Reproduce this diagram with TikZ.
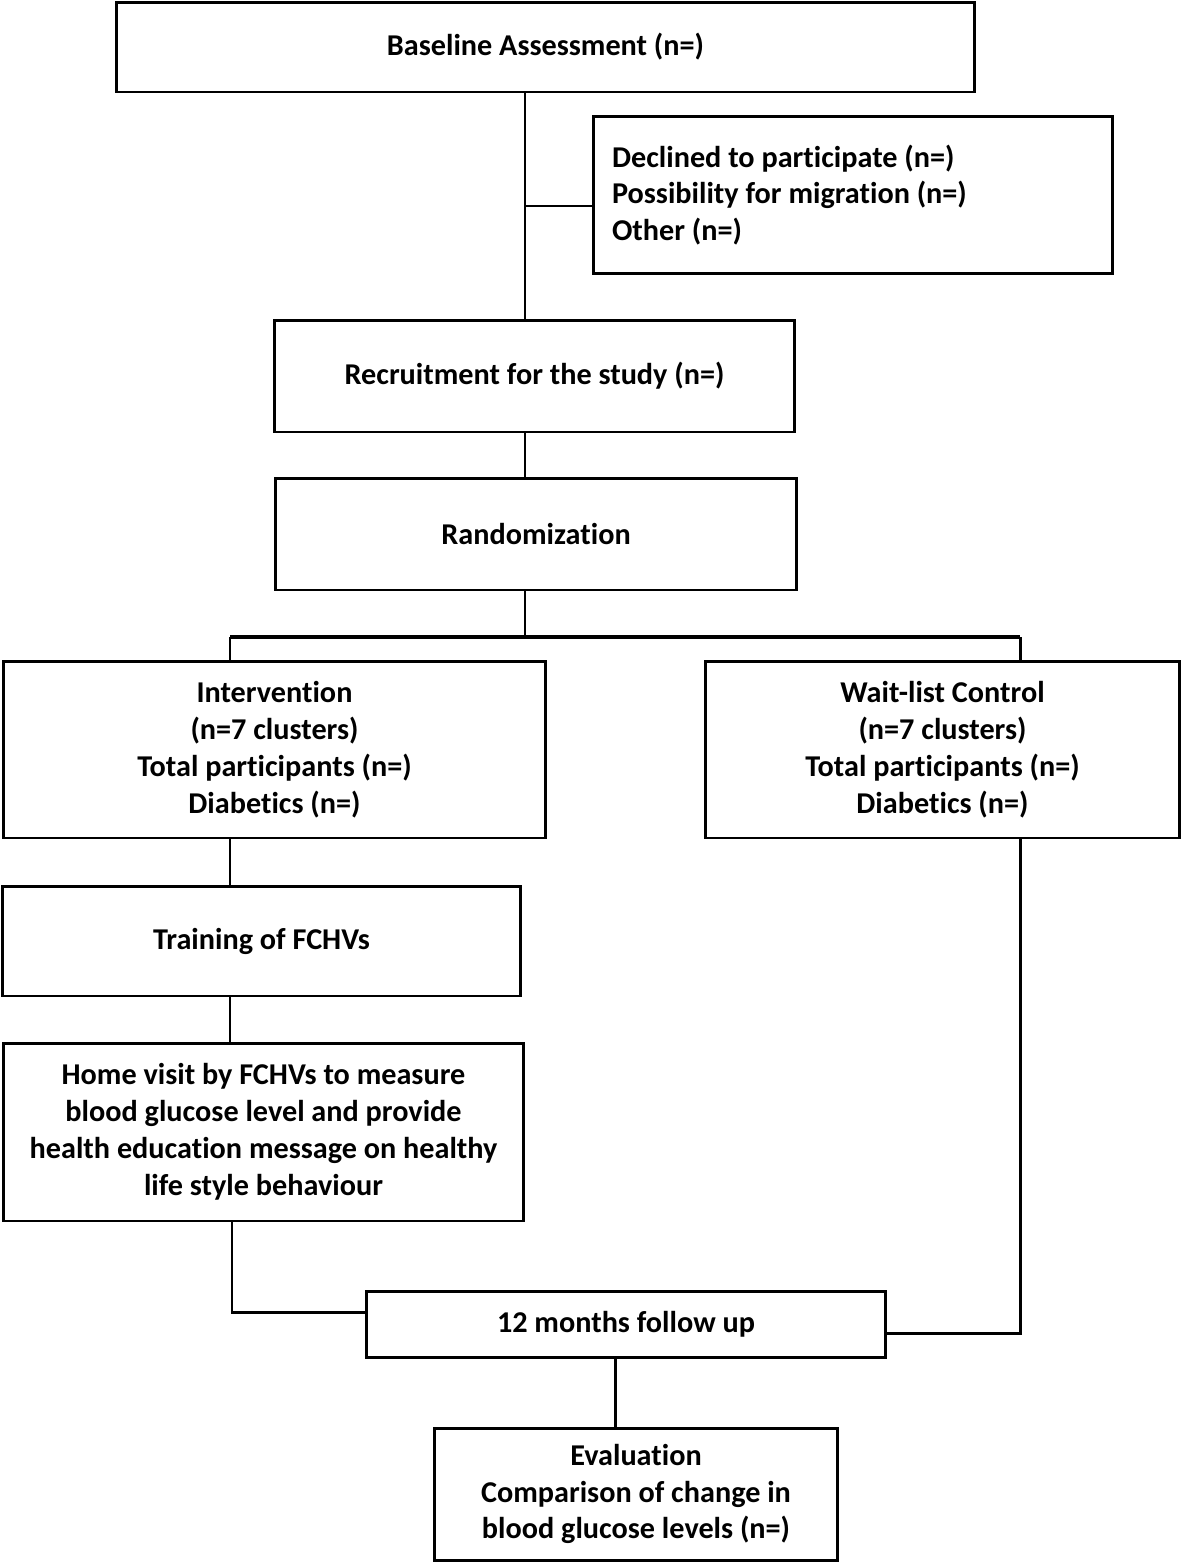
\documentclass[tikz,border=0pt]{standalone}
\usepackage{fontspec}
\setmainfont{Carlito}[Ligatures=NoCommon]
\usetikzlibrary{positioning}

\begin{document}
\begin{tikzpicture}[x=0.02cm,y=-0.02cm,line width=1.7pt,
    box/.style={draw,rectangle,inner sep=0pt,align=center,font=\fontsize{17.2}{21}\selectfont\bfseries}]
    \useasboundingbox (0,0) rectangle (1181,1562);

    \node[box,minimum width=17.18cm,minimum height=1.80cm] (base) at (545.5,47) {Baseline Assessment (n=)};
    \node[box,minimum width=10.40cm,minimum height=3.16cm,text width=9.64cm,align=flush left] (excl) at (853,195)
        {Declined to participate (n=)\\Possibility for migration (n=)\\Other (n=)};
    \node[box,minimum width=10.42cm,minimum height=2.24cm] (recr) at (534.5,376) {Recruitment for the study (n=)};
    \node[box,minimum width=10.44cm,minimum height=2.24cm] (rand) at (536,534) {Randomization};
    \node[box,minimum width=10.86cm,minimum height=3.54cm] (interv) at (274.5,749.5)
        {Intervention\\(n=7 clusters)\\Total participants (n=)\\Diabetics (n=)};
    \node[box,minimum width=9.50cm,minimum height=3.54cm] (ctrl) at (942.5,749.5)
        {Wait-list Control\\(n=7 clusters)\\Total participants (n=)\\Diabetics (n=)};
    \node[box,minimum width=10.38cm,minimum height=2.20cm] (train) at (261.5,941) {Training of FCHVs};
    \node[box,minimum width=10.42cm,minimum height=3.56cm] (home) at (263.5,1132)
        {Home visit by FCHVs to measure\\blood glucose level and provide\\health education message on healthy\\life style behaviour};
    \node[box,minimum width=10.40cm,minimum height=1.32cm] (follow) at (626,1324) {12 months follow up};
    \node[box,minimum width=8.08cm,minimum height=2.64cm] (eval) at (636,1494)
        {Evaluation\\Comparison of change in\\blood glucose levels (n=)};

    % joints of the connectors
    \coordinate (spine) at (525,206);
    \coordinate (split) at (525,637);
    \coordinate (lefttrunk) at (230,637);
    \coordinate (righttrunk) at (1020,637);
    \coordinate (leftin) at (232,1312);
    \coordinate (rightin) at (1020,1333);
    \coordinate (down) at (615,1390);

    \draw (base.south -| spine) -- (recr.north -| spine);
    \draw (spine) -- (spine -| excl.west);
    \draw (recr.south -| spine) -- (rand.north -| spine);
    \draw (rand.south -| split) -- (split);
    \draw[line width=2.2pt] (lefttrunk) -- (righttrunk);
    \draw (lefttrunk) -- (interv.north -| lefttrunk);
    \draw (righttrunk) -- (ctrl.north -| righttrunk);
    \draw (interv.south -| lefttrunk) -- (train.north -| lefttrunk);
    \draw (train.south -| lefttrunk) -- (home.north -| lefttrunk);
    \draw (home.south -| leftin) -- (leftin) -- (leftin -| follow.west);
    \draw (ctrl.south -| rightin) -- (rightin) -- (rightin -| follow.east);
    \draw (follow.south -| down) -- (eval.north -| down);
\end{tikzpicture}
\end{document}
